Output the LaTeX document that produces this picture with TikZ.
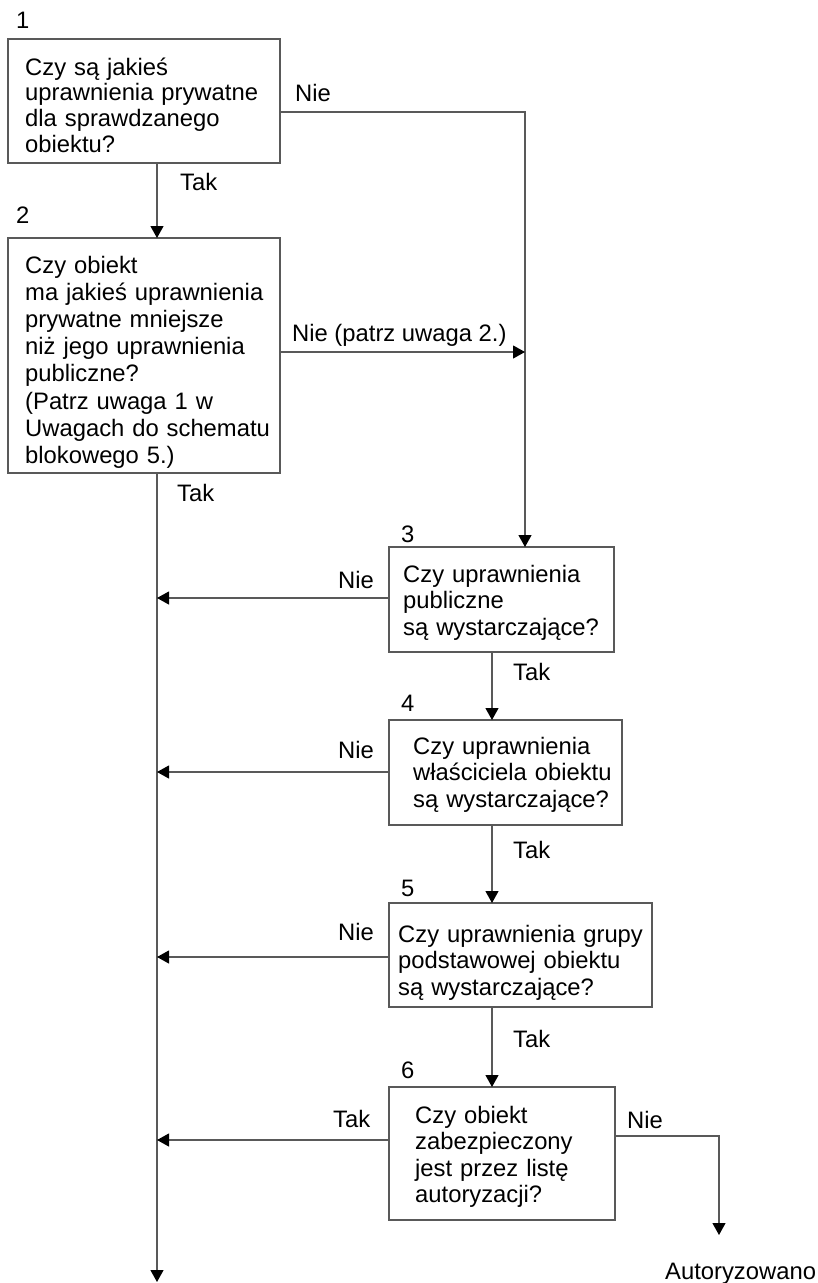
\documentclass[tikz,border=0pt]{standalone}
\usepackage{fontspec}
\setmainfont{Liberation Sans}
\usetikzlibrary{arrows.meta}
\begin{document}
\begin{tikzpicture}[x=1pt,y=-1pt,
  box/.style={draw=black!65, line width=1.1pt, rectangle, inner sep=0pt, outer sep=0pt, anchor=north west},
  txt/.style={anchor=base west, inner sep=0pt, text width=300pt, align=left, font=\fontsize{23.8pt}{26.5pt}\selectfont},
  lbl/.style={anchor=base west, inner sep=0pt, font=\fontsize{23.8pt}{26.5pt}\selectfont},
  conn/.style={draw=black!65, line width=1.1pt},
  arr/.style={conn, -{Triangle[length=12pt,width=13pt,color=black]}}]
\useasboundingbox (0,0) rectangle (817,1283);

% boxes
\node[box, minimum width=272pt, minimum height=124pt] (b1) at (8,39) {};
\node[box, minimum width=272pt, minimum height=235pt] (b2) at (8,238) {};
\node[box, minimum width=225pt, minimum height=105pt] (b3) at (389,547) {};
\node[box, minimum width=233pt, minimum height=105pt] (b4) at (389,720) {};
\node[box, minimum width=263pt, minimum height=104pt] (b5) at (389,903) {};
\node[box, minimum width=226pt, minimum height=133pt] (b6) at (389,1087) {};

% box texts
\node[txt, font=\fontsize{23.8pt}{25.7pt}\selectfont] (t1) at (25,75) {Czy są jakieś\\uprawnienia prywatne\\dla sprawdzanego\\obiektu?};
\node[txt, font=\fontsize{23.8pt}{27.2pt}\selectfont] (t2) at (25,273) {Czy obiekt\\ma jakieś uprawnienia\\prywatne mniejsze\\niż jego uprawnienia\\publiczne?\\(Patrz uwaga 1 w\\Uwagach do schematu\\blokowego 5.)};
\node[txt] (t3) at (403,582) {Czy uprawnienia\\publiczne\\są wystarczające?};
\node[txt] (t4) at (413,754) {Czy uprawnienia\\właściciela obiektu\\są wystarczające?};
\node[txt] (t5) at (398,942) {Czy uprawnienia grupy\\podstawowej obiektu\\są wystarczające?};
\node[txt] (t6) at (415,1123) {Czy obiekt\\zabezpieczony\\jest przez listę\\autoryzacji?};

% numbers
\node[lbl] (n1) at (16,28) {1};
\node[lbl] (n2) at (16,223) {2};
\node[lbl] (n3) at (401,542) {3};
\node[lbl] (n4) at (401,711) {4};
\node[lbl] (n5) at (401,896) {5};
\node[lbl] (n6) at (401,1078) {6};

% coordinates
\coordinate (trunk) at (157,0);
\coordinate (mid) at (492,0);
\coordinate (rcol) at (525,0);
\coordinate (y1) at (0,112);
\coordinate (y2) at (0,352);
\coordinate (y3) at (0,598);
\coordinate (y4) at (0,772);
\coordinate (y5) at (0,957);
\coordinate (y6) at (0,1140);
\coordinate (y6r) at (0,1136);
\coordinate (endtrunk) at (157,1282);
\coordinate (auth) at (719,1235);

% connectors
\draw[arr] (b1.south -| trunk) -- (b2.north -| trunk);
\draw[arr] (b1.east |- y1) -| (b3.north -| rcol);
\draw[arr] (b2.east |- y2) -- (y2 -| rcol);
\draw[arr] (b2.south -| trunk) -- (endtrunk);
\draw[arr] (b3.west |- y3) -- (y3 -| trunk);
\draw[arr] (b3.south -| mid) -- (b4.north -| mid);
\draw[arr] (b4.west |- y4) -- (y4 -| trunk);
\draw[arr] (b4.south -| mid) -- (b5.north -| mid);
\draw[arr] (b5.west |- y5) -- (y5 -| trunk);
\draw[arr] (b5.south -| mid) -- (b6.north -| mid);
\draw[arr] (b6.west |- y6) -- (y6 -| trunk);
\draw[arr] (b6.east |- y6r) -| (auth);

% labels
\node[lbl] (l1) at (180,190) {Tak};
\node[lbl] (l2) at (295,101) {Nie};
\node[lbl] (l3) at (292,341) {Nie (patrz uwaga 2.)};
\node[lbl] (l4) at (177,501) {Tak};
\node[lbl] (l5) at (338,588) {Nie};
\node[lbl] (l6) at (513,680) {Tak};
\node[lbl] (l7) at (338,758) {Nie};
\node[lbl] (l8) at (513,858) {Tak};
\node[lbl] (l9) at (338,940) {Nie};
\node[lbl] (l10) at (513,1047) {Tak};
\node[lbl] (l11) at (333,1127) {Tak};
\node[lbl] (l12) at (627,1128) {Nie};
\node[lbl] (l13) at (665,1279) {Autoryzowano};
\end{tikzpicture}
\end{document}
